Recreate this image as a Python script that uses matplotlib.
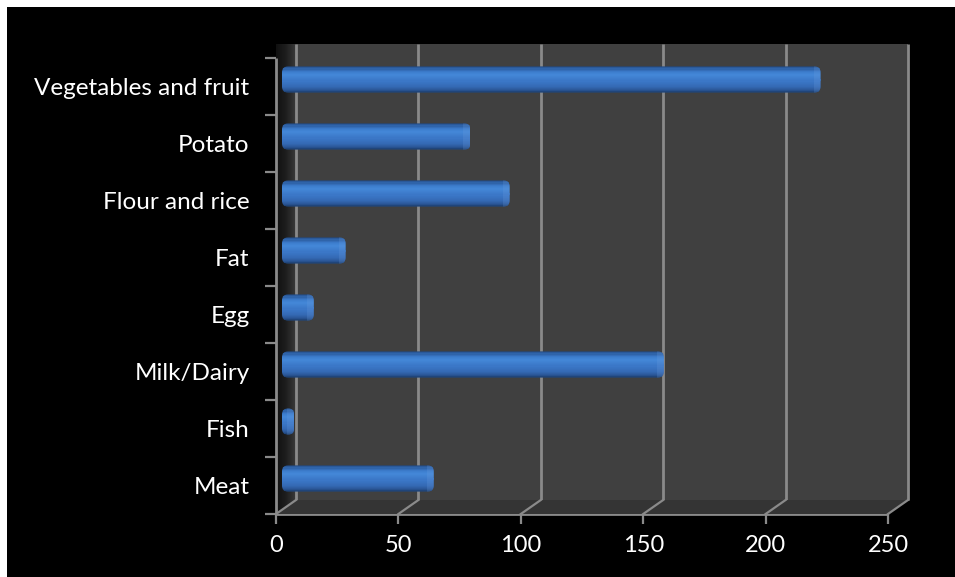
import numpy as np
import matplotlib
matplotlib.use("Agg")
import matplotlib.pyplot as plt
from matplotlib.patches import Rectangle, Polygon, FancyBboxPatch
from matplotlib.transforms import ScaledTranslation
from matplotlib.colors import to_rgb

categories = ["Meat", "Fish", "Milk/Dairy", "Egg", "Fat",
              "Flour and rice", "Potato", "Vegetables and fruit"]
values = [62, 5, 156, 13, 26, 93, 77, 220]
x_ticks = [0, 50, 100, 150, 200, 250]

W, H, DPI = 955, 577, 100
fig = plt.figure(figsize=(W / DPI, H / DPI), dpi=DPI, facecolor="black")
# thin white margin along the top and left edges
fig.add_artist(Rectangle((0, 1 - 7 / H), 1, 7 / H, transform=fig.transFigure,
                         facecolor="white", edgecolor="none", zorder=-10))
fig.add_artist(Rectangle((0, 0), 7 / W, 1, transform=fig.transFigure,
                         facecolor="white", edgecolor="none", zorder=-10))

ax = fig.add_axes([276 / W, 63 / H, 612 / W, 456 / H])
ax.set_xlim(0, 250)
ax.set_ylim(-0.5, len(categories) - 0.5)
ax.patch.set_visible(False)
for s in ax.spines.values():
    s.set_visible(False)

FONT = "Lato"
TXT = "white"
GRID = "#8a8a8a"


def shift(dx_px, dy_px):
    return ax.transData + ScaledTranslation(dx_px / DPI, dy_px / DPI, fig.dpi_scale_trans)


back = shift(20, 14)
mid = shift(6, 7)

n = len(categories)
y0, y1 = -0.5, n - 0.5

# back wall
ax.add_patch(Rectangle((0, y0), 250, y1 - y0, transform=back,
                       facecolor="#404040", edgecolor="none", zorder=0, clip_on=False))

fig.canvas.draw()


def to_px(x, y, dx=0, dy=0):
    px, py = ax.transData.transform((x, y))
    return (px + dx, py + dy)


# floor
fig.add_artist(Polygon([to_px(0, y0), to_px(250, y0), to_px(250, y0, 20, 14),
                        to_px(0, y0, 20, 14)],
                       closed=True, transform=None, facecolor="#343434",
                       edgecolor="none", zorder=0.5, clip_on=False))

# side wall with a horizontal gradient
side_cmap = matplotlib.colors.LinearSegmentedColormap.from_list(
    "side", ["#101010", "#1e1e1e", "#3a3a3a"])
grad = np.linspace(0, 1, 64).reshape(1, -1)
side_img = ax.imshow(grad, cmap=side_cmap,
                     extent=(0, 20 * 250 / 612, y0, y1 + 14 * n / 456),
                     aspect="auto", zorder=0.4, clip_on=False)
side_clip = Polygon([to_px(0, y0), to_px(0, y0, 20, 14), to_px(0, y1, 20, 14), to_px(0, y1)],
                    closed=True, transform=None, facecolor="none", edgecolor="none")
fig.add_artist(side_clip)
side_img.set_clip_path(side_clip)
ax.set_xlim(0, 250)
ax.set_ylim(y0, y1)

# gridlines on the back wall and their continuation across the floor
for t in x_ticks:
    ax.plot([t, t], [y0, y1], color=GRID, lw=2, transform=back, zorder=1, clip_on=False,
            solid_capstyle="butt")
    p0 = to_px(t, y0)
    p1 = to_px(t, y0, 20, 14)
    fig.add_artist(plt.Line2D([p0[0], p1[0]], [p0[1], p1[1]], transform=None,
                              color=GRID, lw=1.6, zorder=1))

# front axis lines
ax.plot([0, 250], [y0, y0], color=GRID, lw=2, zorder=5, clip_on=False, solid_capstyle="butt")
ax.plot([0, 0], [y0, y1], color=GRID, lw=2, zorder=5, clip_on=False, solid_capstyle="butt")

ax.set_xticks(x_ticks)
ax.set_xticklabels([str(t) for t in x_ticks])
ax.set_yticks(np.arange(n + 1) - 0.5, minor=True)
ax.set_yticks(np.arange(n))
ax.set_yticklabels(categories)
ax.tick_params(axis="x", colors=GRID, length=7, width=1.6, labelcolor=TXT,
               labelsize=17, pad=8)
ax.tick_params(axis="y", which="major", length=0, labelcolor=TXT, labelsize=17.5, pad=19)
ax.tick_params(axis="y", which="minor", colors=GRID, length=8, width=1.6)
for lab in ax.get_xticklabels() + ax.get_yticklabels():
    lab.set_fontfamily(FONT)

# cylinder-shaded bars
bar_h = 0.46
ypos = np.arange(n)
xs_per_px = 250 / 612
ys_per_px = n / 456
radius_x = 6 * xs_per_px
aspect = ys_per_px / xs_per_px

profile = [(0.00, "#1f4478"), (0.07, "#2b5b9e"), (0.20, "#3c7ccd"), (0.33, "#4488d8"),
           (0.55, "#3b78c8"), (0.78, "#3469b4"), (0.92, "#2a5696"), (1.00, "#1d3f70")]
pos_p = [p for p, _ in profile]
col_p = np.array([to_rgb(c) for _, c in profile])

nb = 24
for yc, v in zip(ypos, values):
    clip = FancyBboxPatch((0, yc - bar_h / 2), v, bar_h,
                          boxstyle=f"round,pad=0,rounding_size={radius_x}",
                          mutation_aspect=aspect, transform=mid,
                          facecolor="none", edgecolor="none", zorder=3, clip_on=False)
    ax.add_patch(clip)
    for k in range(nb):
        f = (k + 0.5) / nb
        c = [np.interp(f, pos_p, col_p[:, j]) for j in range(3)]
        top = yc + bar_h / 2 - k * bar_h / nb
        r = Rectangle((0, top - bar_h / nb), v, bar_h / nb + 0.002, transform=mid,
                      facecolor=c, edgecolor="none", zorder=3)
        ax.add_patch(r)
        r.set_clip_path(clip)
    # rounded end face, slightly lighter
    cap_w = min(7 * xs_per_px, v * 0.6)
    cap = Rectangle((v - cap_w, yc - bar_h / 2), cap_w, bar_h, transform=mid,
                    facecolor="#6fa0e0", edgecolor="none", alpha=0.22, zorder=3.5)
    ax.add_patch(cap)
    cap.set_clip_path(clip)

fig.savefig("out.png", dpi=DPI, facecolor=fig.get_facecolor())
